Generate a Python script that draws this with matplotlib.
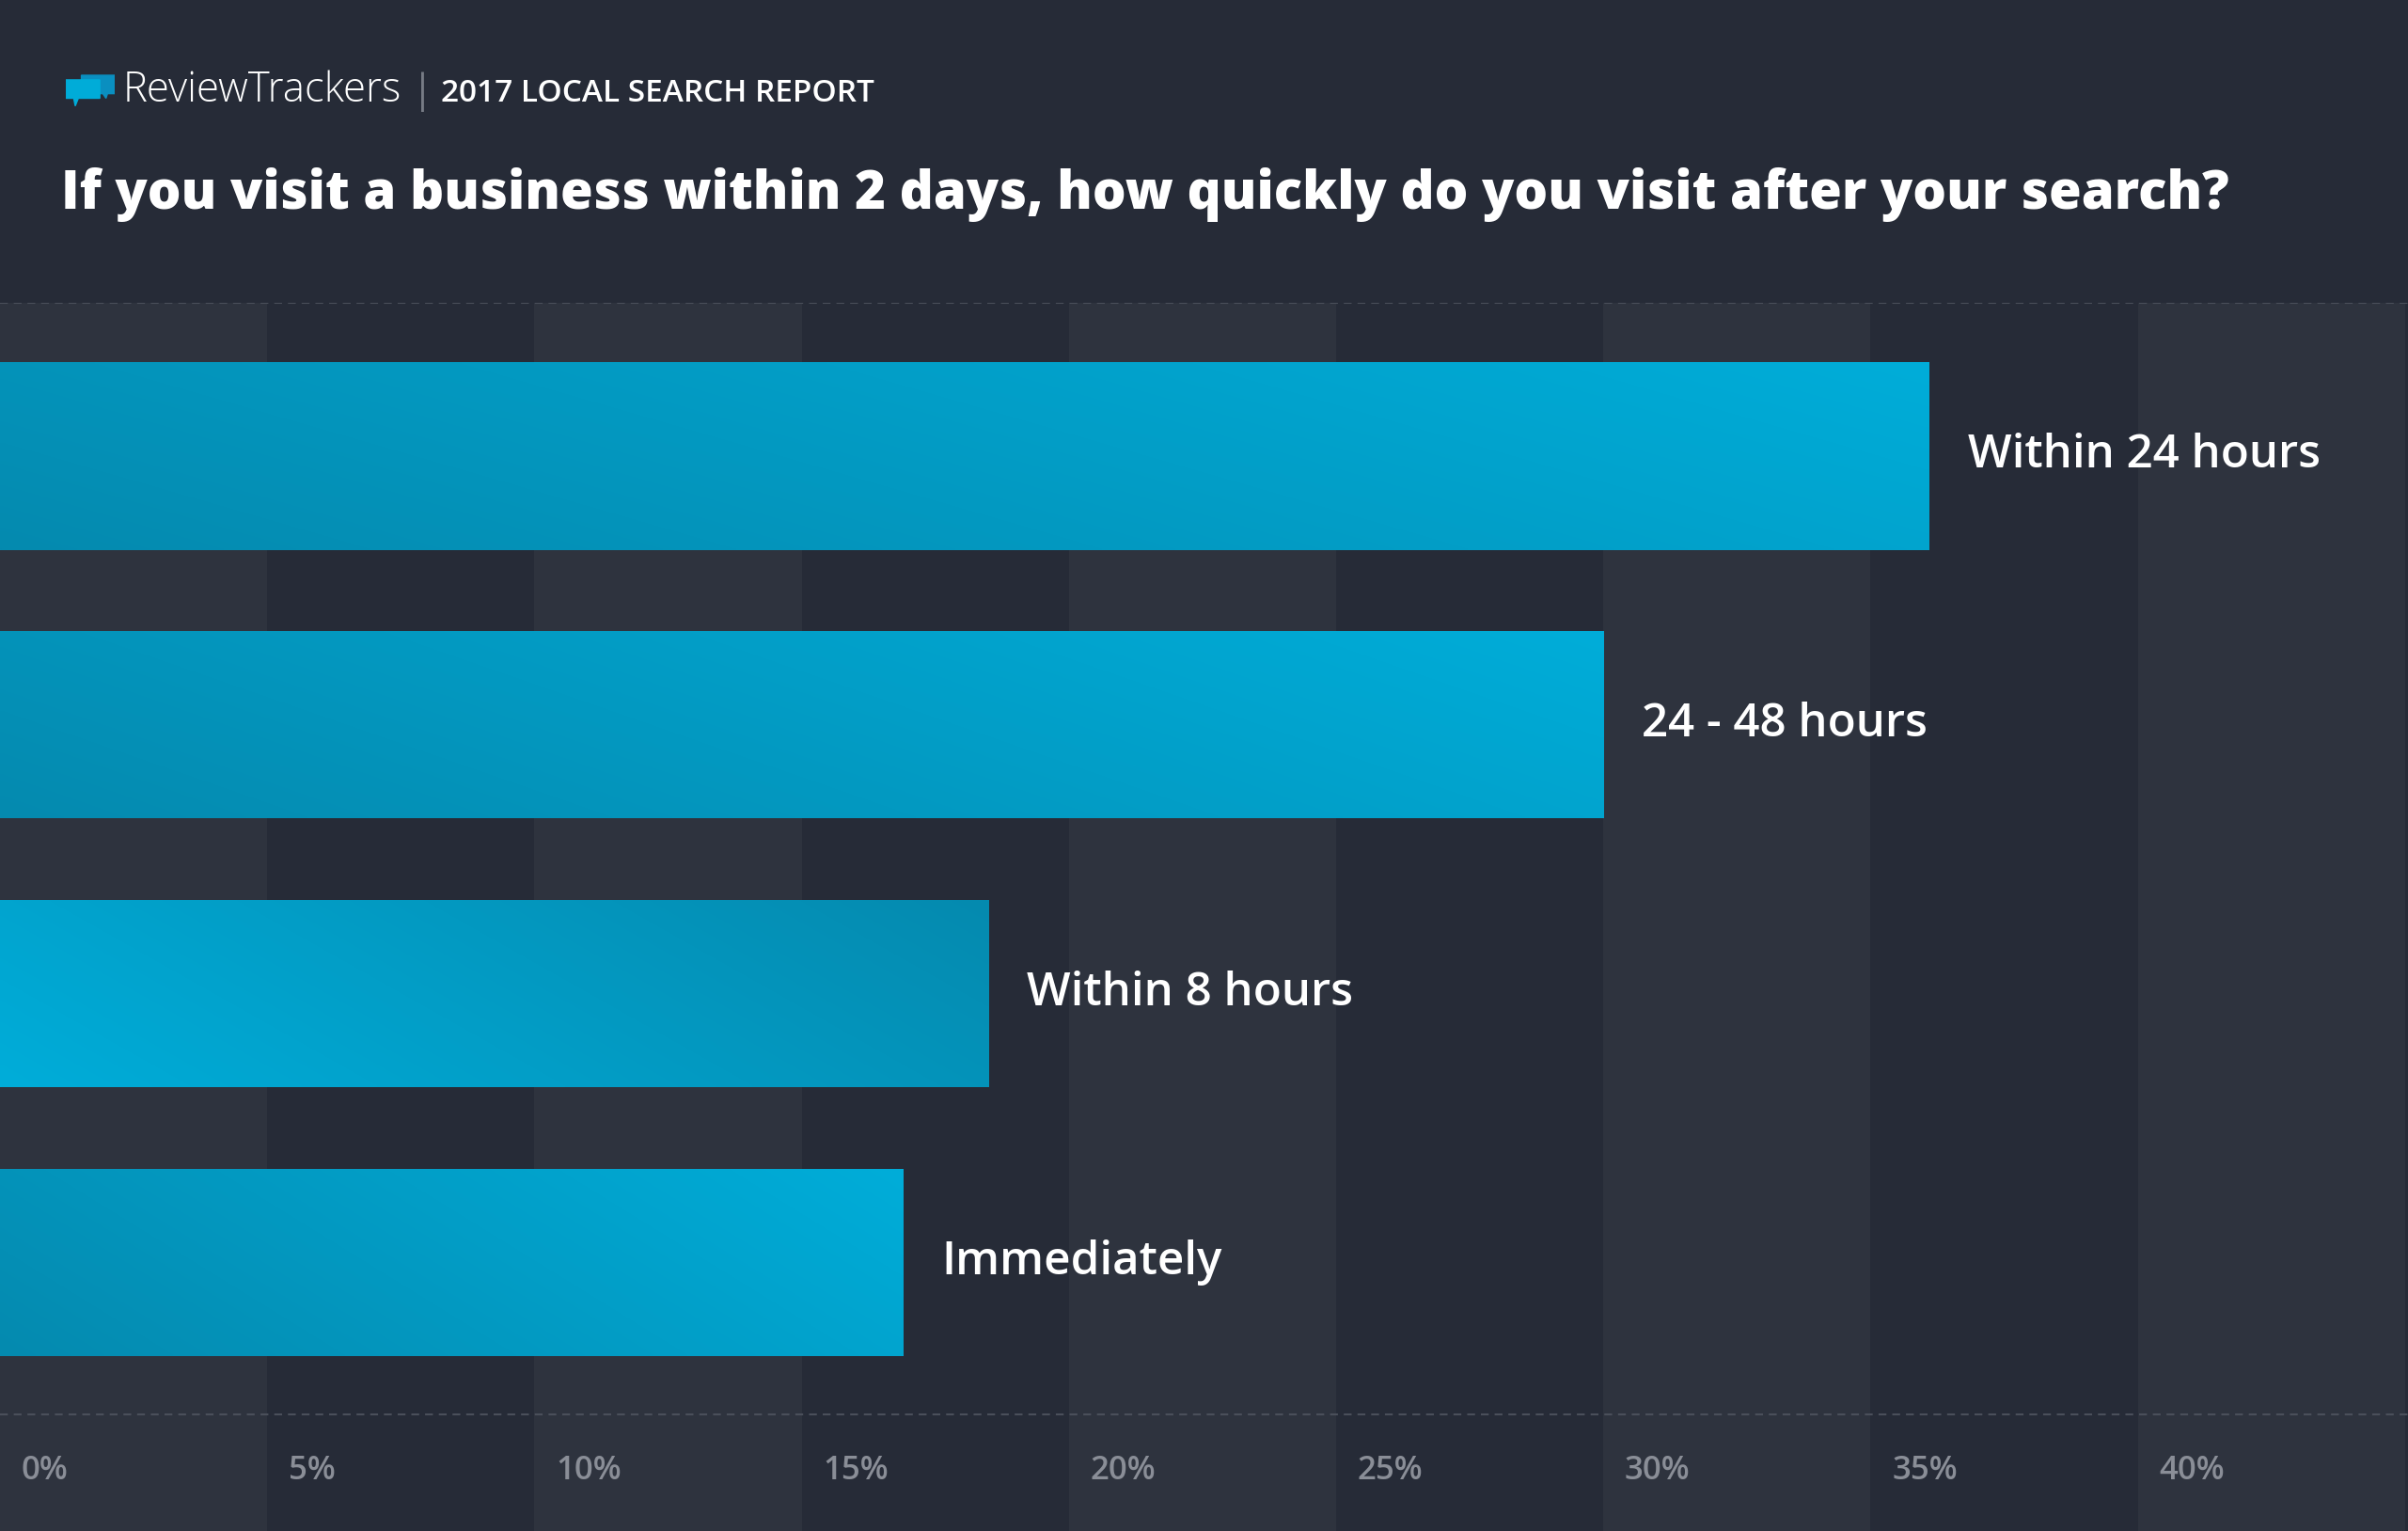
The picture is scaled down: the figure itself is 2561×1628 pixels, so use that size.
import matplotlib.pyplot as plt
import numpy as np
from matplotlib.patches import Rectangle, Polygon

# data
categories = ["Within 24 hours", "24 - 48 hours", "Within 8 hours", "Immediately"]
values = [36.1, 30.0, 18.5, 16.9]
reversed_grad = [False, False, True, False]
tick_vals = [0, 5, 10, 15, 20, 25, 30, 35, 40]

W, H = 1568.0, 997.0
BG = "#262b37"
BAND_LIGHT = "#2e333e"
DARK = np.array([0x05, 0x8a, 0xaf]) / 255
BRIGHT = np.array([0x00, 0xad, 0xd9]) / 255
XMAX = W / 34.8

plt.rcParams['font.family'] = ['Open Sans', 'DejaVu Sans']
fig = plt.figure(figsize=(25.61, 16.28), dpi=100, facecolor=BG)

def fy(y):
    return 1 - y / H

# background bands, from plot top down to the bottom of the figure
bg = fig.add_axes([0, 0, 1, fy(197)])
bg.set_xlim(0, XMAX)
bg.set_ylim(0, 1)
bg.set_facecolor(BG)
bg.axis("off")
for i, t in enumerate(tick_vals):
    if i % 2 == 0:
        bg.axvspan(t, t + 5, color=BAND_LIGHT, lw=0)
    bg.text(t + 0.4, (997 - 958) / 800, f"{t}%", color="#8a8e97",
            fontsize=25, va="center", ha="left", fontweight="semibold")
for yy in [197, 921]:
    bg.axhline((997 - yy) / 800, color="#4a4f5a", lw=1.5, ls=(0, (4, 3)))

# bars
ax = fig.add_axes([0, fy(921), 1, (921 - 197) / H])
ax.set_xlim(0, XMAX)
top = -100 / 175
ax.set_ylim(top + 724 / 175, top)
ax.axis("off")
bh = 122 / 175
ny, nx = 64, 256
gx, gy = np.meshgrid(np.linspace(0, 1, nx), np.linspace(0, 1, ny))
for i, (cat, v, rev) in enumerate(zip(categories, values, reversed_grad)):
    # diagonal gradient, dark at lower-left
    g = 0.75 * gx + 0.25 * (1 - gy)
    if rev:
        g = 1 - g
    img = DARK[None, None, :] * (1 - g[..., None]) + BRIGHT[None, None, :] * g[..., None]
    rect = Rectangle((0, i - bh / 2), v, bh, transform=ax.transData, fc="none", lw=0)
    ax.add_patch(rect)
    im = ax.imshow(img, extent=(0, v, i + bh / 2, i - bh / 2), aspect="auto",
                   interpolation="bilinear", zorder=2)
    im.set_clip_path(rect)
    ax.text(v + 0.72, i, cat, color="white", fontsize=35.5, va="center", ha="left",
            zorder=3, fontweight="semibold")
ax.set_xlim(0, XMAX)
ax.set_ylim(top + 724 / 175, top)

# header
logo = fig.add_axes([43 / W, fy(69), 32 / W, 22 / H])
logo.axis("off")
logo.set_xlim(0, 32)
logo.set_ylim(0, 22)
logo.add_patch(Polygon([[10, 20], [32, 20], [32, 8], [27, 8], [26, 5], [24, 8], [10, 8]], color="#0a8fc0"))
logo.add_patch(Polygon([[0, 17], [22, 17], [22, 5], [8, 5], [6, 0], [5, 5], [0, 5]], color="#00acd8"))
fig.text(80 / W, fy(59), "ReviewTrackers", color="white", fontsize=31.5, va="center",
         ha="left", fontweight="light")
fig.text(275 / W, fy(60), "|", color="#777b85", fontsize=30, va="center", ha="center")
fig.text(287 / W, fy(61), "2017 LOCAL SEARCH REPORT", color="white", fontsize=24,
         va="center", ha="left", fontweight="semibold")
fig.text(40 / W, fy(127), "If you visit a business within 2 days, how quickly do you visit after your search?",
         color="white", fontsize=40.5, va="center", ha="left", fontweight="heavy")

fig.savefig("out.png", dpi=100, facecolor=BG)
